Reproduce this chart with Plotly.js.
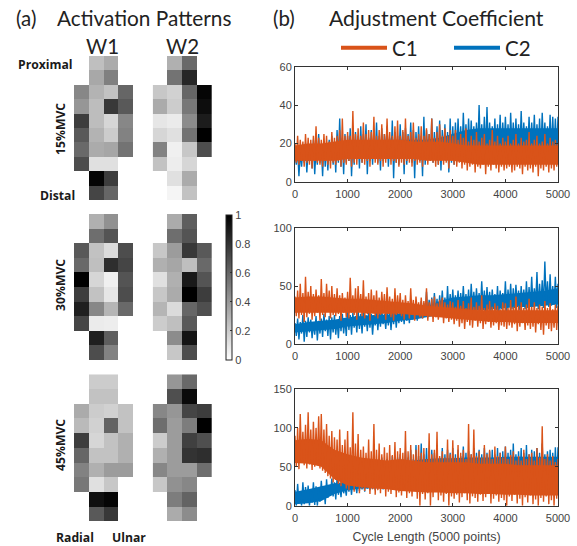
<!DOCTYPE html>
<html><head><meta charset="utf-8">
<script src="https://cdn.plot.ly/plotly-3.0.1.min.js"></script>
<style>html,body{margin:0;padding:0;background:#fff}#c{width:577px;height:546px}</style>
</head><body><div id="c"></div>
<script>
// ---- activation patterns (rows proximal to distal, columns radial to ulnar)
const W1_15 = [[null,.25,.33,null],[null,.34,.50,null],[.47,.30,.24,.60],[.41,.26,.78,.65],[.76,.26,.16,.47],[.65,.30,.20,.49],[.59,.33,.35,.55],[.70,.12,.12,null],[null,.98,.76,null],[null,.73,.60,null]];
const W2_15 = [[null,.31,.59,null],[null,.55,.85,null],[.22,.18,.60,.98],[.33,.20,.53,.95],[.10,.08,.45,.89],[.16,.12,.55,1],[.49,.06,.22,.70],[.24,.07,.16,null],[null,.12,.33,null],[null,.04,.24,null]];
const W1_30 = [[null,.31,.43,null],[null,.57,.67,null],[.65,.24,.14,.70],[.59,.25,.82,.73],[1,.16,.06,.67],[.76,.24,.10,.70],[.88,.47,.29,.59],[.73,.08,.07,null],[null,.88,.63,null],[null,.70,.49,null]];
const W2_30 = [[null,.33,.63,null],[null,.57,.67,null],[.22,.39,.78,.65],[.31,.35,.25,.59],[.12,.31,.90,.67],[.22,.33,1,.76],[.29,.14,.60,.69],[.20,.25,.65,null],[null,.45,.92,null],[null,.22,.70,null]];
const W1_45 = [[null,.20,.20,null],[null,.24,.24,null],[.33,.20,.18,.24],[.27,.18,.61,.24],[.76,.16,.24,.31],[.60,.24,.24,.31],[.49,.31,.39,.39],[.53,.12,.22,null],[null,.94,.98,null],[null,.65,.78,null]];
const W2_45 = [[null,.41,.59,null],[null,.69,.96,null],[.47,.41,.73,.76],[.57,.39,.51,1],[.20,.39,.75,.69],[.31,.39,.80,.82],[.47,.39,.39,.57],[.22,.43,.47,null],[null,.51,.61,null],[null,.33,.45,null]];

// ---- adjustment coefficient, read as peak/trough pairs every 25 cycles
const sampleStep = 25;
const c1_15 = [
20,10,24,9,22,11,21,8,25,10,23,9,22,7,24,11,29,10,23,9,22,8,25,11,24,9,21,7,26,10,23,9,24,11,27,8,33,10,24,9,
26,11,24,8,37,10,25,9,28,12,24,10,31,9,25,11,27,8,26,12,34,10,24,9,27,11,30,8,25,10,33,12,26,9,24,11,29,10,32,8,
24,10,27,9,33,11,24,10,26,8,31,11,23,9,25,10,29,8,24,12,28,9,25,11,33,10,23,8,26,9,30,11,24,9,28,10,24,7,27,11,
24,9,27,8,22,10,25,7,23,9,28,6,21,8,24,9,22,5,26,8,21,7,23,9,25,4,20,8,22,6,27,9,21,7,24,5,20,8,23,6,
21,7,24,8,20,5,22,6,25,8,20,7,23,4,21,8,22,6,26,7,20,5,22,8,24,3,20,7,21,6,25,8,20,5,23,7,21,6,22,8,20];
const c2_15 = [
15,9,17,3,16,8,18,10,20,5,17,11,19,7,22,4,18,9,25,10,19,3,21,8,20,6,22,11,24,9,21,5,27,10,33,8,23,4,25,10,
24,11,28,3,22,9,26,12,24,7,29,10,25,13,30,4,23,11,27,9,26,12,31,10,24,6,28,11,25,13,29,8,23,12,32,2,26,10,24,9,
30,12,26,4,28,9,25,13,31,10,27,2,26,12,29,11,24,3,34,9,27,13,25,11,33,10,26,12,29,9,32,6,27,13,30,11,26,5,33,10,
29,9,31,14,33,15,29,13,36,16,30,14,33,15,32,17,29,14,31,16,40,15,30,17,34,14,39,16,31,15,29,17,33,14,30,16,35,15,31,17,
34,16,30,14,36,17,31,15,33,16,30,14,37,17,31,15,29,16,34,14,31,17,35,15,30,16,33,14,36,17,31,15,29,16,35,15,34,16,33,15,34];
const c1_30 = [
41,24,46,22,52,25,44,19,58,23,45,26,50,21,43,24,47,27,42,20,56,25,44,23,52,28,46,22,50,25,43,24,48,26,42,20,44,27,40,23,
45,22,57,27,42,25,48,21,50,28,43,24,55,22,41,26,44,20,47,27,42,24,46,22,40,25,45,28,43,21,49,26,41,23,39,20,48,25,42,27,
44,24,38,21,42,26,37,22,48,25,38,20,41,27,36,23,40,22,37,25,48,20,36,24,39,19,41,23,35,21,38,24,40,18,36,22,34,19,37,21,
36,17,32,20,38,15,33,18,37,13,31,19,35,16,40,14,32,20,36,15,33,18,42,13,31,17,34,19,37,14,32,16,35,18,33,12,30,16,36,15,
35,13,31,16,38,14,32,17,41,11,33,15,36,18,31,12,34,16,39,13,32,15,36,10,31,17,34,12,32,8,37,16,31,13,35,11,30,14,34,12,33];
const c2_30 = [
18,7,22,4,19,9,25,2,20,6,23,10,21,5,18,8,24,3,20,9,22,6,26,11,21,7,24,4,23,10,25,8,21,5,24,11,26,9,22,7,
30,12,25,8,27,14,24,10,29,13,26,9,30,15,25,11,28,14,26,8,24,16,29,12,27,15,30,17,26,13,28,16,31,12,27,17,29,14,28,18,
30,19,32,17,35,20,30,18,38,21,33,22,36,20,34,24,37,22,35,25,45,23,38,26,40,25,44,27,39,24,42,28,46,26,40,25,50,27,43,28,
47,26,42,29,46,27,44,30,50,28,43,29,47,26,52,31,45,28,48,30,44,29,54,31,46,27,49,30,45,28,47,31,43,29,50,27,46,30,44,31,
54,28,47,32,52,30,48,31,51,33,46,29,50,32,47,30,54,31,49,33,58,32,48,34,62,30,52,33,55,31,71,35,54,32,60,33,50,34,58,31,52];
const c1_45 = [
90,50,100,47,118,55,95,52,104,48,120,53,98,46,108,50,100,54,115,48,118,45,98,42,105,38,90,35,96,30,88,33,85,28,98,25,78,30,85,22,
96,20,75,26,120,18,80,24,92,16,72,22,76,19,68,25,85,15,70,21,105,14,72,20,80,16,66,23,75,12,68,18,78,15,65,22,82,11,70,17,
74,13,68,19,96,10,70,16,78,12,66,20,72,9,78,0,68,15,74,8,60,16,93,0,66,11,72,18,95,7,64,13,70,5,62,15,85,0,66,12,
84,9,62,14,78,4,68,11,72,16,60,7,105,3,66,12,98,10,64,5,70,14,62,6,78,11,66,16,72,3,60,9,76,13,64,5,68,10,62,7,
76,0,60,12,65,6,70,14,58,3,64,9,58,0,72,11,60,4,66,13,68,2,58,8,74,0,62,10,102,5,60,12,66,2,58,7,64,0,56,9,60];
const c2_45 = [
20,0,28,3,16,0,30,2,24,6,26,0,18,4,30,1,25,0,22,5,32,9,24,2,34,10,26,13,35,12,30,8,36,14,28,11,32,16,25,13,
36,18,30,14,35,20,28,16,36,19,44,21,38,18,50,22,42,20,55,24,46,20,60,22,50,25,62,21,52,24,60,26,55,22,64,24,58,25,62,23,
66,26,60,24,70,25,62,28,72,24,60,26,78,25,64,27,80,24,66,26,74,28,66,24,72,26,68,25,70,27,62,24,74,26,66,25,72,28,68,24,
74,26,66,25,72,28,64,24,76,26,68,25,70,27,66,24,74,26,68,28,72,24,66,26,74,25,68,27,70,24,72,26,66,25,74,28,68,24,70,26,
76,25,68,27,72,24,80,26,66,25,70,28,74,24,68,26,78,25,66,27,72,24,70,26,74,28,68,25,80,24,66,26,70,25,72,27,68,24,75,26,75];

// dense core of each series, read every 250 cycles
const bandX = [0,250,500,750,1000,1250,1500,1750,2000,2250,2500,2750,3000,3250,3500,3750,4000,4250,4500,4750,5000];
const c1_15_lo = [11,11,11,11,12,12,12,12,12,12,11,11,11,10,9,9,9,9,9,9,9];
const c1_15_hi = [19,20,20,21,22,22,22,22,22,21,21,21,20,19,19,19,19,19,19,19,19];
const c2_15_lo = [11,11,12,12,13,13,13,14,14,14,14,14,15,16,17,17,18,18,18,18,18];
const c2_15_hi = [15,16,17,18,20,20,21,22,22,22,22,23,25,27,28,28,28,28,28,28,28];
const c1_30_lo = [27,27,27,27,27,27,26,26,26,25,24,23,22,21,20,19,19,18,18,18,18];
const c1_30_hi = [40,41,41,40,39,39,38,37,36,35,33,32,31,30,29,29,29,29,29,29,29];
const c2_30_lo = [10,11,12,13,15,16,17,18,20,21,23,25,27,28,29,30,31,32,32,33,34];
const c2_30_hi = [17,19,20,21,23,24,25,25,26,29,32,37,40,41,42,42,43,44,45,46,48];
const c1_45_lo = [55,54,50,34,26,24,22,21,19,18,17,17,16,16,15,15,14,14,13,13,13];
const c1_45_hi = [84,86,84,72,66,62,60,58,60,58,56,56,56,56,54,54,54,52,52,52,52];
const c2_45_lo = [2,3,6,15,20,22,22,24,24,26,27,27,27,27,27,27,27,27,27,27,27];
const c2_45_hi = [18,21,25,29,31,37,43,48,53,58,60,61,61,62,62,62,63,63,63,63,63];

const seriesNames = ['C1','C2'];
const colorbarTicks = [0,0.2,0.4,0.6,0.8,1];
const xTicks = [0,1000,2000,3000,4000,5000];
const yTicks15 = [0,20,40,60], yTicks30 = [0,50,100], yTicks45 = [0,50,100,150];

const W = 577, H = 546;
const fx = (a,b)=>[a/W,b/W], fy = (t,b)=>[1-b/H,1-t/H];
const ORANGE='#D95319', BLUE='#0072BD';
const grayScale=[[0,'#ffffff'],[1,'#000000']];

const traces=[], layout={
  width:W,height:H,margin:{l:0,r:0,t:0,b:0},paper_bgcolor:'#fff',plot_bgcolor:'#fff',
  font:{family:'"Liberation Sans",Arial,sans-serif'},
  showlegend:true,
  legend:{orientation:'h',x:336/W,y:1-28/H,xanchor:'left',yanchor:'top',font:{family:'Lato,sans-serif',size:20.5,color:'#222'},itemwidth:46,entrywidth:52,entrywidthmode:'pixels',tracegroupgap:0,bgcolor:'rgba(0,0,0,0)',traceorder:'normal'},
  annotations:[],shapes:[]
};

// heatmaps
const heatCols=[[74,133.3],[152.7,212]];
const heatRows=[[56,200],[214,360.3],[374.3,521]];
const heatZ=[[W1_15,W2_15],[W1_30,W2_30],[W1_45,W2_45]];
let ax=1;
heatRows.forEach((rw,r)=>heatCols.forEach((cl,c)=>{
  const s=ax===1?'':ax;
  const t={type:'heatmap',z:heatZ[r][c],xaxis:'x'+s,yaxis:'y'+s,zmin:0,zmax:1,colorscale:grayScale,showscale:false,hoverongaps:false,showlegend:false};
  if(r===1&&c===1){
    t.showscale=true;
    t.colorbar={x:226/W,xanchor:'left',xpad:0,ypad:0,y:1-214.7/H,yanchor:'top',thicknessmode:'pixels',thickness:6,lenmode:'pixels',len:144.6,tickvals:colorbarTicks,ticktext:colorbarTicks.map(String),ticks:'inside',ticklen:2,tickcolor:'#333',outlinecolor:'#222',outlinewidth:1,tickfont:{size:11,color:'#444'}};
  }
  traces.push(t);
  layout['xaxis'+s]={domain:fx(cl[0],cl[1]),range:[-.5,3.5],visible:false,fixedrange:true,anchor:'y'+s};
  layout['yaxis'+s]={domain:fy(rw[0],rw[1]),range:[9.5,-.5],visible:false,fixedrange:true,anchor:'x'+s};
  ax++;
}));

// coefficient panels
const panels=[
 {top:66.7,bottom:182,ymax:60,ticks:yTicks15,c1:c1_15,c2:c2_15,c1lo:c1_15_lo,c1hi:c1_15_hi,c2lo:c2_15_lo,c2hi:c2_15_hi},
 {top:228,bottom:344,ymax:100,ticks:yTicks30,c1:c1_30,c2:c2_30,c1lo:c1_30_lo,c1hi:c1_30_hi,c2lo:c2_30_lo,c2hi:c2_30_hi},
 {top:389,bottom:505.7,ymax:150,ticks:yTicks45,c1:c1_45,c2:c2_45,c1lo:c1_45_lo,c1hi:c1_45_hi,c2lo:c2_45_lo,c2hi:c2_45_hi}
];
const cycleX = c1_15.map((_,i)=>i*sampleStep);
function band(lo,hi,col,xa,ya){
  traces.push({type:'scatter',mode:'lines',x:bandX,y:lo,xaxis:xa,yaxis:ya,line:{width:0,color:col},showlegend:false,hoverinfo:'skip'});
  traces.push({type:'scatter',mode:'lines',x:bandX,y:hi,xaxis:xa,yaxis:ya,line:{width:0,color:col},fill:'tonexty',fillcolor:col,showlegend:false,hoverinfo:'skip'});
}
panels.forEach(p=>{
  const s=ax, xa='x'+s, ya='y'+s;
  band(p.c2lo,p.c2hi,BLUE,xa,ya);
  traces.push({type:'scatter',mode:'lines',name:seriesNames[1],x:cycleX,y:p.c2,xaxis:xa,yaxis:ya,line:{width:1.4,color:BLUE},showlegend:false});
  band(p.c1lo,p.c1hi,ORANGE,xa,ya);
  traces.push({type:'scatter',mode:'lines',name:seriesNames[0],x:cycleX,y:p.c1,xaxis:xa,yaxis:ya,line:{width:1.4,color:ORANGE},showlegend:false});
  const common={showline:true,mirror:'ticks',linecolor:'#333',linewidth:1,ticks:'inside',ticklen:3,tickcolor:'#333',showgrid:false,zeroline:false,fixedrange:true,tickfont:{size:11,color:'#444'}};
  layout['xaxis'+s]=Object.assign({domain:fx(295,558),range:[0,5000],tickvals:xTicks,anchor:ya,ticklabelstandoff:2},common);
  layout['yaxis'+s]=Object.assign({domain:fy(p.top,p.bottom),range:[0,p.ymax],tickvals:p.ticks,anchor:xa},common);
  ax++;
});
layout['xaxis'+(ax-1)].title={text:'Cycle Length (5000 points)',font:{size:12.4,color:'#444'},standoff:9};

// legend entries
traces.push({type:'scatter',mode:'lines',name:seriesNames[0],x:[-100,-90],y:[-10,-10],xaxis:'x7',yaxis:'y7',line:{color:ORANGE,width:4}});
traces.push({type:'scatter',mode:'lines',name:seriesNames[1],x:[-100,-90],y:[-10,-10],xaxis:'x7',yaxis:'y7',line:{color:BLUE,width:4}});

// labels
function lab(text,x,y,size,opts){
  layout.annotations.push(Object.assign({text,xref:'paper',yref:'paper',x:x/W,y:1-y/H,xanchor:'center',yanchor:'middle',showarrow:false,font:{family:'Lato,sans-serif',size,color:'#222'}},opts||{}));
}
lab('(a)',26,18,20.5);
lab('Activation Patterns',144,18,20.8);
lab('W1',102,46,20.5);
lab('W2',182,46,20.5);
lab('(b)',284,18,20.5);
lab('Adjustment Coefficient',436,18,21.2);
const bold={family:'"Open Sans",sans-serif',size:12.2,color:'#1a1a1a',weight:700};
lab('<b>Proximal</b>',46,64,12.2,{font:bold});
lab('<b>Distal</b>',57,195,12.2,{font:bold});
lab('<b>15%MVC</b>',60,129,12.2,{font:bold,textangle:-90});
lab('<b>30%MVC</b>',60,285,12.2,{font:bold,textangle:-90});
lab('<b>45%MVC</b>',60,445,12.2,{font:bold,textangle:-90});
lab('<b>Radial</b>',75,537,12.2,{font:bold});
lab('<b>Ulnar</b>',129,537,12.2,{font:bold});

Plotly.newPlot('c',traces,layout,{displayModeBar:false,staticPlot:true});
</script></body></html>
